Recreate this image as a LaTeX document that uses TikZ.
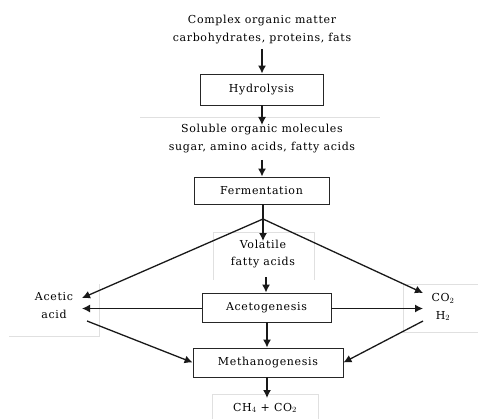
\documentclass[tikz,border=0pt]{standalone}
\usepackage{fontspec}
\setmainfont{DejaVu Serif}[LetterSpace=6]
\usetikzlibrary{arrows.meta}
\begin{document}
\begin{tikzpicture}[x=1pt,y=-1pt,
  every node/.style={font=\fontsize{11}{17.5}\selectfont, inner sep=0pt},
  proc/.style={draw=black!85, line width=0.9pt, minimum width=#1, fill=white},
  txt/.style={align=center},
  arr/.style={-{Latex[length=8pt,width=8pt]}, line width=1.3pt, draw=black!90},
  ln/.style={line width=1.3pt, draw=black!90},
  faint/.style={draw=black!12, line width=0.7pt}]
\useasboundingbox (0,0) rectangle (478,419);
% faint text frames
\draw[faint] (140,117) -- (380,117);
\draw[faint] (213,280) -- (213,232) -- (314,232) -- (314,280);
\draw[faint] (9,336) -- (99,336) -- (99,284);
\draw[faint] (478,284) -- (403,284) -- (403,332) -- (478,332);
\draw[faint] (212,419) -- (212,394) -- (318,394) -- (318,419);
% nodes
\node[txt] (top) at (262,29.5) {Complex organic matter\\carbohydrates, proteins, fats};
\node[proc=123pt, minimum height=31pt] (hyd) at (261.5,89.5) {Hydrolysis};
\node[txt] (sol) at (262,138.5) {Soluble organic molecules\\sugar, amino acids, fatty acids};
\node[proc=135pt, minimum height=27pt] (fer) at (261.5,190.5) {Fermentation};
\node[txt] (vol) at (263,254) {Volatile\\fatty acids};
\node[proc=129pt, minimum height=29pt] (ace) at (266.5,307.5) {Acetogenesis};
\node[txt] (acetic) at (54,305.5) {Acetic\\acid};
\node[txt] (gas) at (443,307) {CO$_2$\\H$_2$};
\node[proc=150pt, minimum height=29pt] (met) at (268,362.5) {Methanogenesis};
\node[txt] (ch4) at (265,408) {CH$_4$ + CO$_2$};
% connector coordinates
\coordinate (topout) at (262,49);
\coordinate (solin) at (262,125);
\coordinate (solout) at (262,160);
\coordinate (split) at (263,219);
\coordinate (volin) at (263,241);
\coordinate (volout) at (266,277);
\coordinate (acin1) at (82,298);
\coordinate (acin2) at (82,308.5);
\coordinate (acout) at (87,321);
\coordinate (gasin1) at (423,293);
\coordinate (gasin2) at (423,308.5);
\coordinate (gasout) at (423,321);
\coordinate (chin) at (267,398);
% connectors
\draw[arr] (topout) -- (hyd.north -| topout);
\draw[arr] (hyd.south -| solin) -- (solin);
\draw[arr] (solout) -- (fer.north -| solout);
\draw[ln] (fer.south -| split) -- (split);
\draw[arr] (split) -- (volin);
\draw[arr] (split) -- (acin1);
\draw[arr] (split) -- (gasin1);
\draw[arr] (volout) -- (ace.north -| volout);
\draw[arr] (ace.west |- acin2) -- (acin2);
\draw[arr] (ace.east |- gasin2) -- (gasin2);
\draw[arr] (ace.south -| chin) -- (met.north -| chin);
\draw[arr] (acout) -- (met.west);
\draw[arr] (gasout) -- (met.east);
\draw[arr] (met.south -| chin) -- (chin);
\end{tikzpicture}
\end{document}
